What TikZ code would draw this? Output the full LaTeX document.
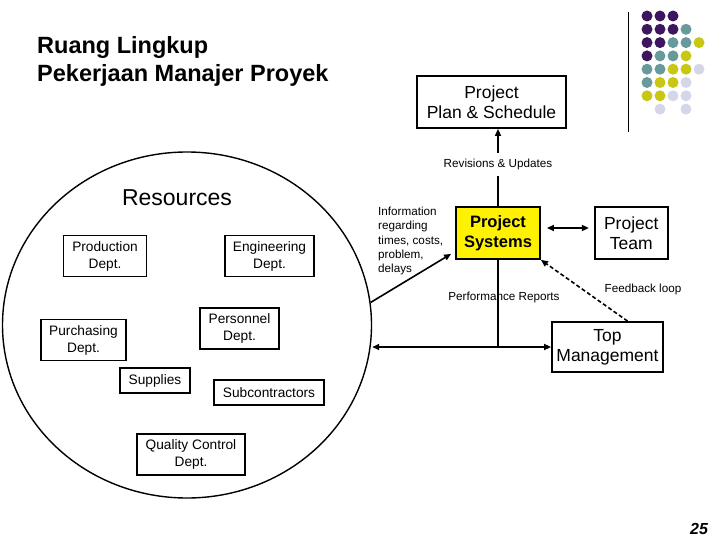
\documentclass[tikz,border=0pt]{standalone}
\usepackage{fontspec}
\setmainfont{Liberation Sans}
\usetikzlibrary{arrows.meta,positioning,shapes.geometric}
\definecolor{dotP}{RGB}{62,22,96}
\definecolor{dotT}{RGB}{104,154,156}
\definecolor{dotY}{RGB}{200,200,20}
\definecolor{dotL}{RGB}{212,214,234}

\begin{document}
\begin{tikzpicture}[x=1pt,y=-1pt,every node/.style={inner sep=0pt,font=\fontsize{13.7}{17}\selectfont},dept/.style={rectangle,draw=black,line width=1.6pt,minimum height=41pt,align=center},bigbox/.style={rectangle,draw=black,line width=1.8pt,minimum height=52pt,align=center,font=\fontsize{17.5}{20}\selectfont},smalltext/.style={font=\fontsize{11.7}{14.3}\selectfont},arrow/.style={-{Triangle[length=7pt,width=6pt]},line width=1.6pt},dblarrow/.style={{Triangle[length=7pt,width=6pt]}-{Triangle[length=7pt,width=6pt]},line width=1.6pt},dot/.style={circle,inner sep=0pt,minimum size=11pt}]
\useasboundingbox (0,0) rectangle (720,540);
\node[anchor=north west,align=left,font=\bfseries\fontsize{23.5}{28.3}\selectfont](title)at(37,36){Ruang Lingkup\\Pekerjaan Manajer Proyek};
\node[ellipse,draw=black,line width=1.4pt,minimum width=369pt,minimum height=346pt](resources)at(187,325){};
\node[font=\fontsize{23}{26}\selectfont](restitle)at(177,198){Resources};
\node[dept,minimum width=83pt](production)at(105,256){Production\\Dept.};
\node[dept,minimum width=89pt](engineering)at(269.5,256){Engineering\\Dept.};
\node[dept,minimum width=85pt](purchasing)at(83.5,340){Purchasing\\Dept.};
\node[dept,minimum width=79pt](personnel)at(239.5,328.5){Personnel\\Dept.};
\node[dept,minimum width=70pt,minimum height=25pt](supplies)at(155,380.5){Supplies};
\node[dept,minimum width=110pt,minimum height=25pt](subcontractors)at(269,392.5){Subcontractors};
\node[dept,minimum width=108pt](quality)at(191,454.5){Quality Control\\Dept.};
\node[bigbox,minimum width=149pt](plan)at(491.5,102){Project\\Plan \& Schedule};
\node[bigbox,fill=yellow,minimum width=84pt,font=\bfseries\fontsize{16.5}{20.5}\selectfont](systems)at(498,233){Project\\Systems};
\node[bigbox,minimum width=73pt,right=53pt of systems](team){Project\\Team};
\node[bigbox,minimum width=111pt,minimum height=50pt](topmgmt)at(607.5,347){Top\\Management};
\node[smalltext,anchor=west,align=left](info)at(378,241){Information\\regarding\\times, costs,\\problem,\\delays};
\node[smalltext](perf)at(504,297.5){Performance Reports};
\node[smalltext](feedback)at(643,289){Feedback loop};
\node[font=\bfseries\itshape\fontsize{16}{18}\selectfont](pagenum)at(699,529){25};
\coordinate(junction)at(systems.south |- topmgmt.west);
\draw[line width=1.6pt](junction)--(systems.south);\draw[arrow](systems.north)--node[smalltext,fill=white,inner xsep=2pt,inner ysep=6pt,pos=0.54](revisions){Revisions \& Updates}(systems.north |- plan.south);\draw[dblarrow](resources.east |- junction)--(topmgmt.west);\draw[dblarrow,shorten <=6pt,shorten >=5pt]([yshift=5pt]systems.east)--([yshift=5pt]team.west);\draw[arrow](resources.7)--([xshift=-4pt,yshift=6pt]systems.south west);\draw[arrow,dash pattern=on 4pt off 2.5pt]([xshift=20pt]topmgmt.north)--(systems.south east);
\coordinate(ruletop)at(628,12);\coordinate(rulebottom)at(628,132);
\draw[line width=1pt](ruletop)--(rulebottom);
\foreach \row/\cols in {0/{0/P,1/P,2/P},1/{0/P,1/P,2/P,3/T},2/{0/P,1/P,2/T,3/T,4/Y},3/{0/P,1/T,2/T,3/Y},4/{0/T,1/T,2/Y,3/Y,4/L},5/{0/T,1/Y,2/Y,3/L},6/{0/Y,1/Y,2/L,3/L},7/{1/L,3/L}}
  \foreach \col/\shade in \cols
    \node[dot,fill=dot\shade](dot\row\col)at(647+13*\col,16+13.3*\row){};
\end{tikzpicture}
\end{document}
